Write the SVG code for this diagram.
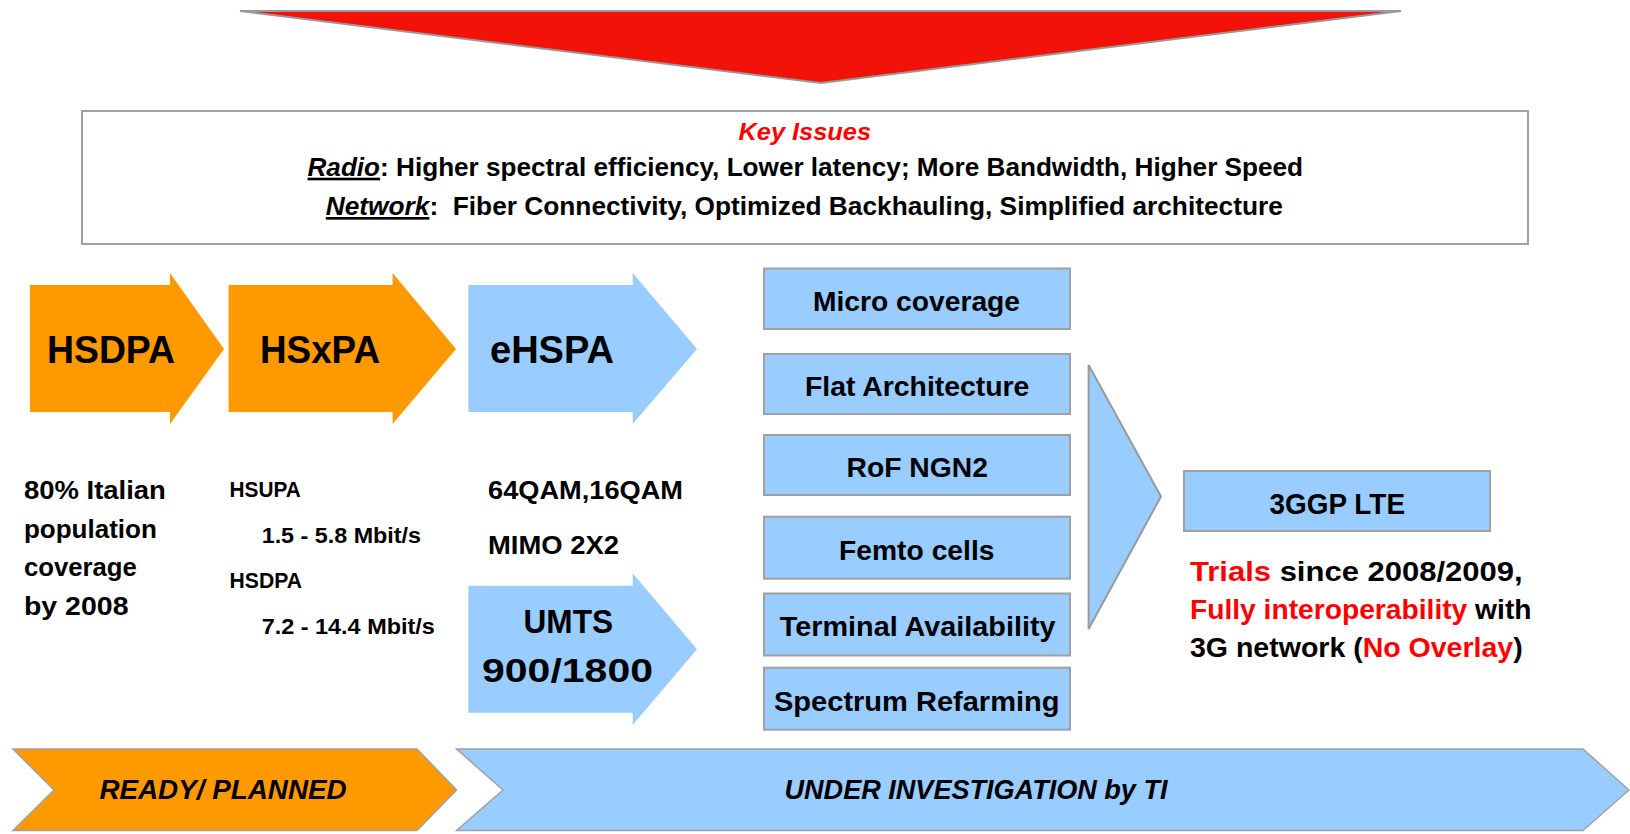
<svg xmlns="http://www.w3.org/2000/svg" width="1630" height="834" viewBox="0 0 1630 834">
  <style>
    text { font-family: "Liberation Sans Narrow", "Liberation Sans", Arial, sans-serif; font-weight: bold; fill: #000; }
    .orange { fill: #FF9900; stroke: none; }
    .blue { fill: #99CCFF; stroke: none; }
    .box { fill: #99CCFF; stroke: #A0A0A0; stroke-width: 2; }
    .frame { fill: #FFFFFF; stroke: #A0A0A0; stroke-width: 2; }
    .red { fill: #FF0000; }
    .it { font-style: italic; }
    .ul { text-decoration: underline; }
  </style>

  <rect width="1630" height="834" fill="#FFFFFF"/>

  <!-- Downward funnel at the top -->
  <g id="funnel">
    <polygon points="240,11 1401,11 821,83" fill="#F2120A" stroke="#999999" stroke-width="2" stroke-linejoin="miter"/>
  </g>

  <!-- Key issues panel -->
  <g id="key-issues">
    <rect class="frame" x="82" y="111" width="1446" height="133"/>
    <text x="738.5" y="140" font-size="24" textLength="132.5" lengthAdjust="spacingAndGlyphs" class="red it">Key Issues</text>
    <text x="307.5" y="175.7" font-size="26.5" textLength="995.5" lengthAdjust="spacingAndGlyphs"><tspan class="it ul">Radio</tspan>: Higher spectral efficiency, Lower latency; More Bandwidth, Higher Speed</text>
    <text x="325.8" y="215" font-size="26.5" textLength="957" lengthAdjust="spacingAndGlyphs" xml:space="preserve"><tspan class="it ul">Network</tspan>:  Fiber Connectivity, Optimized Backhauling, Simplified architecture</text>
  </g>

  <!-- Technology steps -->
  <g id="hsdpa">
    <path class="orange" d="M30,285 H170 V273 L224,349 L170,424 V412 H30 Z"/>
    <text x="47" y="362.7" font-size="38.5" textLength="128" lengthAdjust="spacingAndGlyphs">HSDPA</text>
  </g>
  <g id="hsxpa">
    <path class="orange" d="M228.6,285 H392.6 V273 L456,349 L392.6,424 V412 H228.6 Z"/>
    <text x="260" y="362.7" font-size="38.5" textLength="120" lengthAdjust="spacingAndGlyphs">HSxPA</text>
  </g>
  <g id="ehspa">
    <path class="blue" d="M468.4,285 H632.7 V273 L697,349 L632.7,424 V412 H468.4 Z"/>
    <text x="490" y="362.7" font-size="38.5" textLength="124" lengthAdjust="spacingAndGlyphs">eHSPA</text>
  </g>
  <g id="umts">
    <path class="blue" d="M468.4,585.7 H632.7 V573.3 L697,649.3 L632.7,725 V712.7 H468.4 Z"/>
    <text x="523.5" y="633.3" font-size="33.5" textLength="89.5" lengthAdjust="spacingAndGlyphs">UMTS</text>
    <text x="482" y="681.7" font-size="33.5" textLength="171" lengthAdjust="spacingAndGlyphs">900/1800</text>
  </g>

  <!-- Step notes -->
  <g id="hsdpa-note">
    <text x="23.9" y="499" font-size="26.5" textLength="142" lengthAdjust="spacingAndGlyphs">80% Italian</text>
    <text x="23.9" y="538" font-size="26.5" textLength="133" lengthAdjust="spacingAndGlyphs">population</text>
    <text x="23.9" y="576" font-size="26.5" textLength="113" lengthAdjust="spacingAndGlyphs">coverage</text>
    <text x="23.9" y="615" font-size="26.5" textLength="104.6" lengthAdjust="spacingAndGlyphs">by 2008</text>
  </g>
  <g id="hsxpa-note">
    <text x="229.6" y="497.3" font-size="22" textLength="71.2" lengthAdjust="spacingAndGlyphs">HSUPA</text>
    <text x="261.7" y="543.3" font-size="22.5" textLength="159.3" lengthAdjust="spacingAndGlyphs">1.5 - 5.8 Mbit/s</text>
    <text x="229.6" y="588.3" font-size="22" textLength="72.4" lengthAdjust="spacingAndGlyphs">HSDPA</text>
    <text x="261.7" y="634.3" font-size="22.5" textLength="173.1" lengthAdjust="spacingAndGlyphs">7.2 - 14.4 Mbit/s</text>
  </g>
  <g id="ehspa-note">
    <text x="488" y="499.3" font-size="26.5" textLength="195" lengthAdjust="spacingAndGlyphs">64QAM,16QAM</text>
    <text x="488" y="554.3" font-size="26.5" textLength="131" lengthAdjust="spacingAndGlyphs">MIMO 2X2</text>
  </g>

  <!-- Enablers under investigation -->
  <g id="micro-coverage">
    <rect class="box" x="764" y="268.5" width="306" height="60.5"/>
    <text x="813" y="310.7" font-size="28.5" textLength="207" lengthAdjust="spacingAndGlyphs">Micro coverage</text>
  </g>
  <g id="flat-architecture">
    <rect class="box" x="764" y="354" width="306" height="60"/>
    <text x="805" y="396" font-size="28.5" textLength="224.4" lengthAdjust="spacingAndGlyphs">Flat Architecture</text>
  </g>
  <g id="rof-ngn2">
    <rect class="box" x="764" y="435" width="306" height="60"/>
    <text x="846.5" y="477.3" font-size="28.5" textLength="141.5" lengthAdjust="spacingAndGlyphs">RoF NGN2</text>
  </g>
  <g id="femto-cells">
    <rect class="box" x="764" y="516.7" width="306" height="62"/>
    <text x="839" y="560" font-size="28.5" textLength="155.5" lengthAdjust="spacingAndGlyphs">Femto cells</text>
  </g>
  <g id="terminal-availability">
    <rect class="box" x="764" y="593.5" width="306" height="62"/>
    <text x="779.8" y="636" font-size="28.5" textLength="275.7" lengthAdjust="spacingAndGlyphs">Terminal Availability</text>
  </g>
  <g id="spectrum-refarming">
    <rect class="box" x="764" y="667.7" width="306" height="62"/>
    <text x="774" y="710.7" font-size="28.5" textLength="285.5" lengthAdjust="spacingAndGlyphs">Spectrum Refarming</text>
  </g>

  <!-- Target -->
  <g id="lte">
    <rect class="box" x="1184" y="471" width="306" height="60"/>
    <text x="1269.6" y="514" font-size="30" textLength="135.4" lengthAdjust="spacingAndGlyphs">3GGP LTE</text>
  </g>
  <g id="lte-note">
    <text x="1190" y="581" font-size="28" textLength="332.7" lengthAdjust="spacingAndGlyphs"><tspan class="red">Trials</tspan> since 2008/2009,</text>
    <text x="1190" y="619.3" font-size="28" textLength="341.5" lengthAdjust="spacingAndGlyphs"><tspan class="red">Fully interoperability</tspan> with</text>
    <text x="1190" y="656.7" font-size="28" textLength="332.7" lengthAdjust="spacingAndGlyphs">3G network (<tspan class="red">No Overlay</tspan>)</text>
  </g>

  <!-- Merge arrow from the enablers to LTE -->
  <g id="connectors">
    <polygon points="1088.6,365 1161,496.5 1088.6,629" fill="#99CCFF" stroke="#999999" stroke-width="2"/>
  </g>

  <!-- Timeline bands -->
  <g id="ready-planned">
    <polygon points="13,749 417,749 456.6,790 417,830.5 13,830.5 54,790" fill="#FF9900" stroke="#A0A0A0" stroke-width="1.5"/>
    <text x="99.4" y="799" font-size="27.5" textLength="247.3" lengthAdjust="spacingAndGlyphs" class="it">READY/ PLANNED</text>
  </g>
  <g id="under-investigation">
    <polygon points="456.6,749 1583,749 1629,790 1583,830.5 456.6,830.5 503,790" fill="#99CCFF" stroke="#A0A0A0" stroke-width="1.5"/>
    <text x="784.5" y="799" font-size="27.5" textLength="383" lengthAdjust="spacingAndGlyphs" class="it">UNDER INVESTIGATION by TI</text>
  </g>
</svg>
